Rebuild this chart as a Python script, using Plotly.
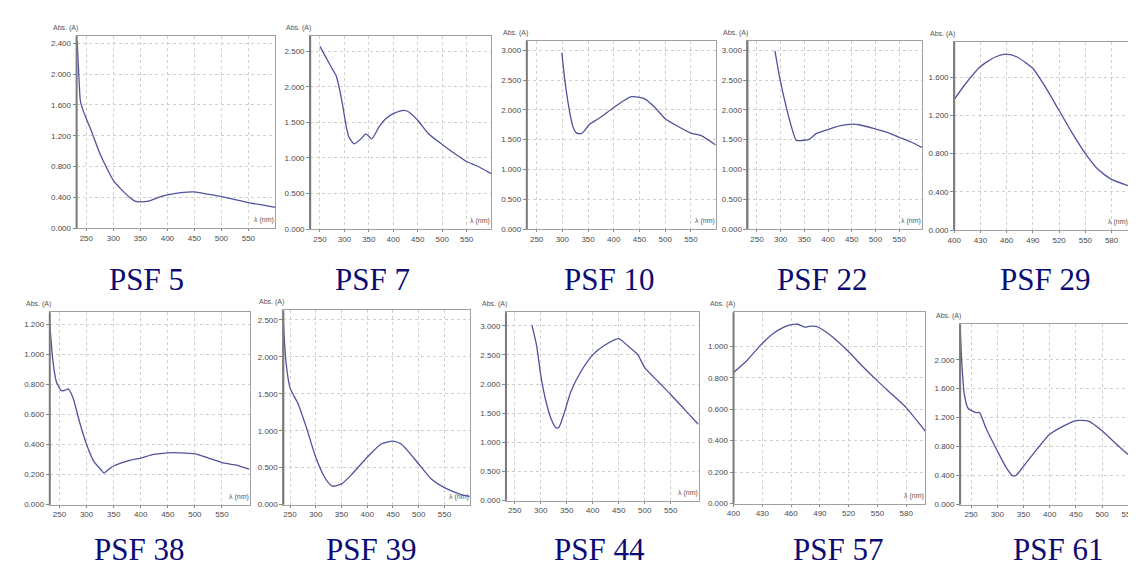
import plotly.graph_objects as go

W, H = 1136, 570

# ---------------- data ----------------
names = ["PSF 5", "PSF 7", "PSF 10", "PSF 22", "PSF 29",
         "PSF 38", "PSF 39", "PSF 44", "PSF 57", "PSF 61"]

wl_psf5 = [233, 236, 239, 244, 250, 260, 275, 290, 300, 315, 330, 340, 350, 365, 380, 400, 425, 450, 475, 500, 525, 550, 575, 600]
ab_psf5 = [2.43, 2.00, 1.65, 1.53, 1.42, 1.25, 0.97, 0.75, 0.62, 0.50, 0.40, 0.35, 0.34, 0.35, 0.39, 0.43, 0.46, 0.47, 0.44, 0.41, 0.37, 0.33, 0.30, 0.27]

wl_psf7 = [250, 262, 273, 283, 289, 297, 302, 309, 320, 334, 344, 356, 371, 384, 402, 422, 431, 450, 472, 500, 526, 550, 574, 600]
ab_psf7 = [2.57, 2.42, 2.28, 2.16, 2.00, 1.72, 1.51, 1.30, 1.20, 1.27, 1.34, 1.27, 1.44, 1.55, 1.63, 1.67, 1.65, 1.53, 1.34, 1.19, 1.06, 0.95, 0.88, 0.78]

wl_psf10 = [299, 305, 315, 321, 328, 337, 344, 353, 370, 400, 421, 434, 450, 461, 480, 500, 525, 550, 569, 598]
ab_psf10 = [2.96, 2.49, 1.93, 1.71, 1.61, 1.60, 1.66, 1.76, 1.85, 2.04, 2.16, 2.22, 2.21, 2.18, 2.04, 1.85, 1.72, 1.61, 1.57, 1.41]

wl_psf22 = [288, 298, 312, 323, 333, 350, 361, 375, 400, 424, 452, 466, 500, 522, 550, 575, 598]
ab_psf22 = [2.99, 2.54, 2.04, 1.71, 1.49, 1.49, 1.51, 1.60, 1.67, 1.73, 1.76, 1.75, 1.68, 1.63, 1.54, 1.46, 1.37]

wl_psf29 = [400, 413, 430, 447, 460, 472, 490, 504, 520, 534, 550, 565, 580, 600]
ab_psf29 = [1.365, 1.53, 1.71, 1.81, 1.84, 1.81, 1.69, 1.50, 1.25, 1.03, 0.80, 0.63, 0.53, 0.46]

wl_psf38 = [232, 238, 244, 253, 260, 266, 275, 287, 300, 313, 326, 332, 341, 350, 375, 400, 424, 450, 473, 500, 525, 550, 575, 601]
ab_psf38 = [1.20, 0.95, 0.82, 0.76, 0.76, 0.77, 0.71, 0.55, 0.40, 0.29, 0.235, 0.21, 0.235, 0.257, 0.29, 0.31, 0.334, 0.345, 0.345, 0.338, 0.31, 0.28, 0.264, 0.235]

wl_psf39 = [237, 242, 250, 266, 282, 300, 318, 332, 350, 370, 400, 427, 450, 466, 500, 524, 550, 577, 599]
ab_psf39 = [2.48, 1.94, 1.58, 1.36, 1.04, 0.64, 0.36, 0.25, 0.28, 0.41, 0.64, 0.82, 0.86, 0.82, 0.55, 0.35, 0.23, 0.15, 0.11]

wl_psf44 = [283, 292, 300, 310, 320, 329, 335, 345, 358, 377, 400, 422, 450, 467, 487, 500, 526, 550, 577, 603]
ab_psf44 = [3.01, 2.66, 2.15, 1.70, 1.40, 1.25, 1.26, 1.50, 1.87, 2.21, 2.50, 2.66, 2.78, 2.66, 2.50, 2.28, 2.04, 1.82, 1.56, 1.31]

wl_psf57 = [400, 414, 428, 441, 452, 459, 467, 474, 480, 486, 493, 503, 520, 535, 550, 566, 580, 600]
ab_psf57 = [0.834, 0.91, 1.006, 1.08, 1.12, 1.136, 1.14, 1.122, 1.128, 1.126, 1.105, 1.06, 0.965, 0.87, 0.78, 0.69, 0.61, 0.46]

wl_psf61 = [229, 232, 237, 244, 253, 259, 266, 278, 300, 317, 329, 335, 348, 375, 400, 425, 450, 475, 500, 525, 550, 580]
ab_psf61 = [2.45, 1.98, 1.52, 1.33, 1.29, 1.27, 1.27, 1.06, 0.74, 0.51, 0.40, 0.40, 0.51, 0.76, 0.97, 1.08, 1.16, 1.15, 1.02, 0.85, 0.69, 0.54]

wavelengths = [wl_psf5, wl_psf7, wl_psf10, wl_psf22, wl_psf29, wl_psf38, wl_psf39, wl_psf44, wl_psf57, wl_psf61]
absorbances = [ab_psf5, ab_psf7, ab_psf10, ab_psf22, ab_psf29, ab_psf38, ab_psf39, ab_psf44, ab_psf57, ab_psf61]

# y tick values per panel
yticks = [
    [0, 0.4, 0.8, 1.2, 1.6, 2.0, 2.4],
    [0, 0.5, 1.0, 1.5, 2.0, 2.5],
    [0, 0.5, 1.0, 1.5, 2.0, 2.5, 3.0],
    [0, 0.5, 1.0, 1.5, 2.0, 2.5, 3.0],
    [0, 0.4, 0.8, 1.2, 1.6],
    [0, 0.2, 0.4, 0.6, 0.8, 1.0, 1.2],
    [0, 0.5, 1.0, 1.5, 2.0, 2.5],
    [0, 0.5, 1.0, 1.5, 2.0, 2.5, 3.0],
    [0, 0.2, 0.4, 0.6, 0.8, 1.0],
    [0, 0.4, 0.8, 1.2, 1.6, 2.0],
]
xt_uv = [250, 300, 350, 400, 450, 500, 550]
xt_vis = [400, 430, 460, 490, 520, 550, 580]
xticks = [xt_uv, xt_uv, xt_uv, xt_uv, xt_vis, xt_uv, xt_uv, xt_uv, xt_vis, xt_uv]

# ---------------- layout geometry (pixels) ----------------
# left, right, top, bottom of each plot frame
boxes = [
    (62, 262, 28, 222), (297, 479, 28, 223), (515, 705, 33, 223), (737, 913, 33, 223), (945, 1121, 34, 224),
    (35, 236, 307, 501), (270, 458, 305, 501), (494, 688, 307, 497), (723, 916, 307, 500), (951, 1136, 319, 501),
]
xranges = [(232, 600), (230, 600), (231, 598), (230, 599), (400, 600),
           (232, 601), (237, 600), (233, 604), (400, 600), (229, 580)]
yranges = [(0, 2.5), (0, 2.72), (0, 3.16), (0, 3.16), (0, 1.97),
           (0, 1.28), (0, 2.63), (0, 3.23), (0, 1.216), (0, 2.49)]
label_pos = [(132, 274), (360, 274), (598, 274), (812, 274), (1036, 274),
             (125, 546), (358, 546), (588, 546), (828, 546), (1049, 546)]

LINE = "#50539c"
FRAME = "#a0a0a0"
GRID = "#cfcfcf"
TICKFONT = dict(family="Liberation Sans", size=8, color="#4a4a4a")

fig = go.Figure()
annotations = []
shapes = []

for i in range(10):
    L, R, T, B = boxes[i]
    k = "" if i == 0 else str(i + 1)
    xa, ya = "x" + k, "y" + k
    fig.add_trace(go.Scatter(
        x=wavelengths[i], y=absorbances[i], mode="lines",
        line=dict(color=LINE, width=1.3, shape="spline", smoothing=0.6),
        xaxis=xa, yaxis=ya, showlegend=False, hoverinfo="skip"))

    last = (i == 9)
    fig.layout["xaxis" + k] = dict(
        domain=[L / W, min(R / W, 1.0)], range=list(xranges[i]), anchor=ya,
        tickvals=xticks[i], ticks="outside", ticklen=2, tickcolor="#888",
        showline=True, linecolor=FRAME, linewidth=1, mirror=True,
        showgrid=True, gridcolor=GRID, griddash="dot", gridwidth=1,
        zeroline=False, tickfont=TICKFONT, fixedrange=True)
    fig.layout["yaxis" + k] = dict(
        domain=[1 - B / H, 1 - T / H], range=list(yranges[i]), anchor=xa,
        tickvals=yticks[i], tickformat=".3f", ticks="outside", ticklen=3, tickcolor="#888",
        showline=True, linecolor=FRAME, linewidth=1, mirror=(not last),
        showgrid=True, gridcolor=GRID, griddash="dot", gridwidth=1,
        zeroline=False, tickfont=TICKFONT, fixedrange=True)

    # darker left axis line
    shapes.append(dict(type="line", xref=xa + " domain", yref=ya + " domain",
                       x0=0, x1=0, y0=0, y1=1, line=dict(color="#7a7a7a", width=2)))

    # axis titles
    annotations.append(dict(text="Abs. (A)", xref="paper", yref="paper",
                            x=(L + 3) / W, y=1 - (T - 2) / H, xanchor="right", yanchor="bottom",
                            showarrow=False, font=dict(family="Liberation Sans", size=7, color="#555")))
    if not last:
        annotations.append(dict(text="λ (nm)", xref="paper", yref="paper",
                                x=(R + 1) / W, y=1 - (B - 2) / H, xanchor="right", yanchor="bottom",
                                showarrow=False, font=dict(family="Liberation Sans", size=7, color="#555")))

    # panel name
    cx, cy = label_pos[i]
    annotations.append(dict(text=names[i], xref="paper", yref="paper",
                            x=cx / W, y=1 - cy / H, xanchor="center", yanchor="middle",
                            showarrow=False,
                            font=dict(family="Liberation Serif", size=31, color="#0b0b73")))

fig.update_layout(
    width=W, height=H, margin=dict(l=0, r=0, t=0, b=0),
    paper_bgcolor="white", plot_bgcolor="white",
    annotations=annotations, shapes=shapes, showlegend=False,
)

fig.write_html("out.html", config={"displayModeBar": False})
